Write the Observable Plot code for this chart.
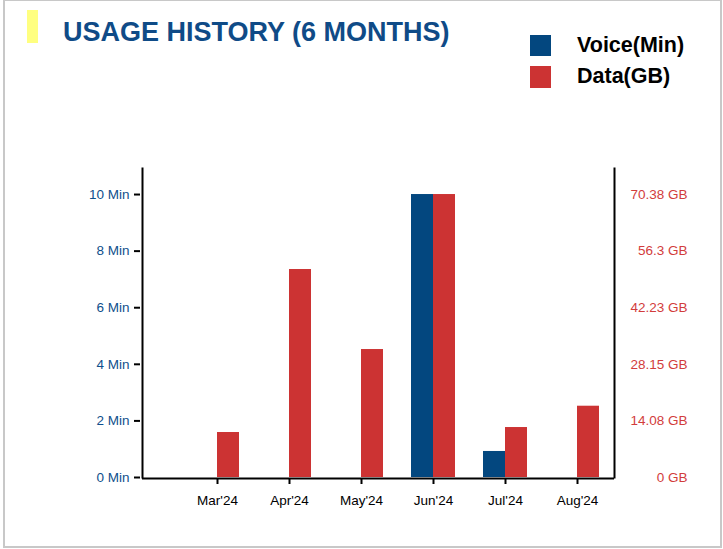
<!DOCTYPE html>
<html>
<head>
<meta charset="utf-8">
<script src="https://cdn.jsdelivr.net/npm/d3@7"></script>
<script src="https://cdn.jsdelivr.net/npm/@observablehq/plot@0.6"></script>
<style>
  html, body { margin: 0; padding: 0; background: #fff; }
  body { font-family: "Liberation Sans", Arial, sans-serif; }
  #page { position: relative; width: 723px; height: 549px; overflow: hidden; }
  #border { position: absolute; left: 3px; top: 0; width: 719px; height: 548px; box-sizing: border-box;
            border: 2px solid #c8c8c8; border-top-width: 1px; pointer-events: none; }
  #header { position: relative; height: 100px; }
  #mark { position: absolute; left: 27px; top: 10px; width: 11px; height: 33px; background: #ffff80; }
  #title { position: absolute; left: 63px; top: 15px; margin: 0; font-family: "Liberation Sans Narrow", "Liberation Sans", Arial, sans-serif;
           font-weight: bold; font-size: 27px; color: #0f4b87; white-space: nowrap; line-height: 34px; }
  .lg { position: absolute; left: 530px; display: flex; align-items: center; }
  .sw { width: 21px; height: 21px; margin-right: 26px; }
  .lt { font-family: "Liberation Sans Narrow", "Liberation Sans", Arial, sans-serif; font-weight: bold; font-size: 21.5px; color: #000; white-space: nowrap; }
  #chart svg { display: block; }
</style>
</head>
<body>
<div id="page">
  <div id="header">
    <div id="mark"></div>
    <h1 id="title">USAGE HISTORY (6 MONTHS)</h1>
    <div class="lg" style="top:33px"><div class="sw" style="background:#03477f"></div><span class="lt">Voice(Min)</span></div>
    <div class="lg" style="top:64px"><div class="sw" style="background:#cc3333;height:22px"></div><span class="lt">Data(GB)</span></div>
  </div>
  <div id="chart"></div>
  <div id="border"></div>
</div>
<script>
// ---- data ----
const months = ["Mar'24", "Apr'24", "May'24", "Jun'24", "Jul'24", "Aug'24"];
const voiceMin = [0, 0, 0, 10, 0.92, 0];
const dataGB = [11.19, 51.73, 31.83, 70.38, 12.43, 17.73];
const minTicks = [0, 2, 4, 6, 8, 10];
const minTickLabels = ["0 Min", "2 Min", "4 Min", "6 Min", "8 Min", "10 Min"];
const gbTicks = [0, 14.08, 28.15, 42.23, 56.3, 70.38];
const gbTickLabels = ["0 GB", "14.08 GB", "28.15 GB", "42.23 GB", "56.3 GB", "70.38 GB"];
const minMax = 10, gbMax = 70.38; // the two axes share one scale: 10 Min <-> 70.38 GB

const blue = "#03477f", red = "#cc3333";
const rows = months.map((m, i) => ({month: m, voice: voiceMin[i], gb: dataGB[i], gbScaled: dataGB[i] * minMax / gbMax}));
const gbTickPos = gbTicks.map(g => g * minMax / gbMax);
const fs = 13.5;

const chart = Plot.plot({
  width: 723,
  height: 449,
  marginLeft: 142,
  marginRight: 109,
  marginTop: 68,
  marginBottom: 72,
  style: {fontFamily: "'Liberation Sans', Arial, sans-serif", fontSize: "13.5px", background: "transparent"},
  x: {type: "band", domain: months, range: [193, 600], paddingInner: 0.394, paddingOuter: 0},
  y: {domain: [0, 10.92]},
  marks: [
    Plot.barY(rows, {x: "month", y: "voice", fill: blue, insetRight: 22}),
    Plot.barY(rows, {x: "month", y: "gbScaled", fill: red, insetLeft: 22}),
    Plot.frame({anchor: "left", stroke: "#000", strokeWidth: 2}),
    Plot.frame({anchor: "right", stroke: "#000", strokeWidth: 2}),
    Plot.ruleY([0], {stroke: "#000", strokeWidth: 2, dy: 1}),
    Plot.axisY(minTicks, {anchor: "left", label: null, tickSize: 6, tickPadding: 5, dx: -2, fontSize: fs,
      tickFormat: d => minTickLabels[minTicks.indexOf(d)], stroke: "#000", strokeWidth: 2, fill: "#0f4f8c"}),
    Plot.axisY(gbTickPos, {anchor: "right", label: null, tickSize: 0, tickPadding: 73, textAnchor: "end", fontSize: fs,
      tickFormat: d => gbTickLabels[gbTickPos.indexOf(d)], fill: "#d23c3c"}),
    Plot.axisX({anchor: "bottom", label: null, tickSize: 6, tickPadding: 11, fontSize: fs, stroke: "#000", strokeWidth: 2, fill: "#000", dy: 1})
  ]
});
document.getElementById("chart").appendChild(chart);
</script>
</body>
</html>
